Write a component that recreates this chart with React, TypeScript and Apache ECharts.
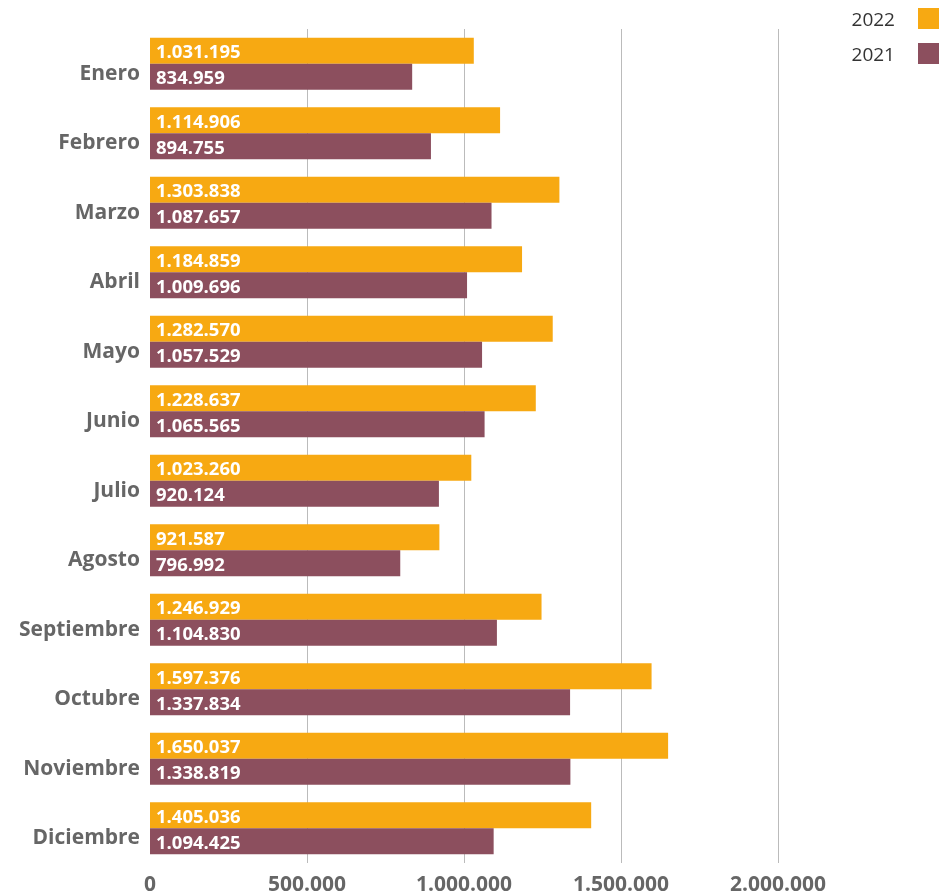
import React, { useEffect, useRef } from "react";
import * as echarts from "echarts";

const months = ["Enero", "Febrero", "Marzo", "Abril", "Mayo", "Junio", "Julio", "Agosto", "Septiembre", "Octubre", "Noviembre", "Diciembre"];
const values2022 = [1031195, 1114906, 1303838, 1184859, 1282570, 1228637, 1023260, 921587, 1246929, 1597376, 1650037, 1405036];
const values2021 = [834959, 894755, 1087657, 1009696, 1057529, 1065565, 920124, 796992, 1104830, 1337834, 1338819, 1094425];
const seriesNames = ["2022", "2021"];
const colors = ["#F7A912", "#8C4F5E"];

const fmt = (v: number) => String(Math.round(v)).replace(/\B(?=(\d{3})+(?!\d))/g, ".");
const FONT = "'Open Sans', 'Noto Sans', sans-serif";

export default function App() {
  const ref = useRef<HTMLDivElement>(null);
  useEffect(() => {
    if (!ref.current) return;
    const chart = echarts.init(ref.current, undefined, { renderer: "svg" });
    const mk = (name: string, data: number[], color: string) => ({
      name,
      type: "bar",
      data,
      barGap: "0%",
      barCategoryGap: "25%",
      itemStyle: { color },
      label: {
        show: true,
        position: "insideLeft",
        distance: 6,
        color: "#fff",
        fontWeight: "bold",
        fontSize: 18.5,
        fontFamily: FONT,
        formatter: (p: any) => fmt(p.value),
      },
    });
    chart.setOption({
      animation: false,
      grid: { left: 150, right: 4, top: 29, bottom: 32, containLabel: false },
      legend: {
        data: seriesNames,
        orient: "vertical",
        right: 0,
        top: 8,
        padding: 0,
        align: "right",
        itemWidth: 21,
        itemHeight: 21,
        itemGap: 14,
        icon: "rect",
        textStyle: { fontSize: 19, color: "#333", fontFamily: FONT, padding: [0, 18, 0, 0] },
      },
      xAxis: {
        type: "value",
        min: 0,
        max: 2500000,
        interval: 500000,
        axisLine: { show: false },
        axisTick: { show: false },
        splitLine: { show: true, showMinLine: false, showMaxLine: false, lineStyle: { color: "#bbbbbb", width: 1 } },
        axisLabel: {
          showMaxLabel: false,
          margin: 9,
          color: "#666",
          fontWeight: "bold",
          fontSize: 21,
          fontFamily: FONT,
          formatter: (v: number) => (v >= 2500000 ? "" : fmt(v)),
        },
      },
      yAxis: {
        type: "category",
        data: months,
        inverse: true,
        axisLine: { show: false },
        axisTick: { show: false },
        axisLabel: {
          margin: 10,
          color: "#666",
          fontWeight: "bold",
          fontSize: 21,
          fontFamily: FONT,
          verticalAlign: "top",
          lineHeight: 16,
        },
      },
      series: [mk(seriesNames[0], values2022, colors[0]), mk(seriesNames[1], values2021, colors[1])],
    });
    return () => chart.dispose();
  }, []);
  return <div ref={ref} style={{ position: "fixed", left: 0, top: 0, width: 939, height: 895 }} />;
}
